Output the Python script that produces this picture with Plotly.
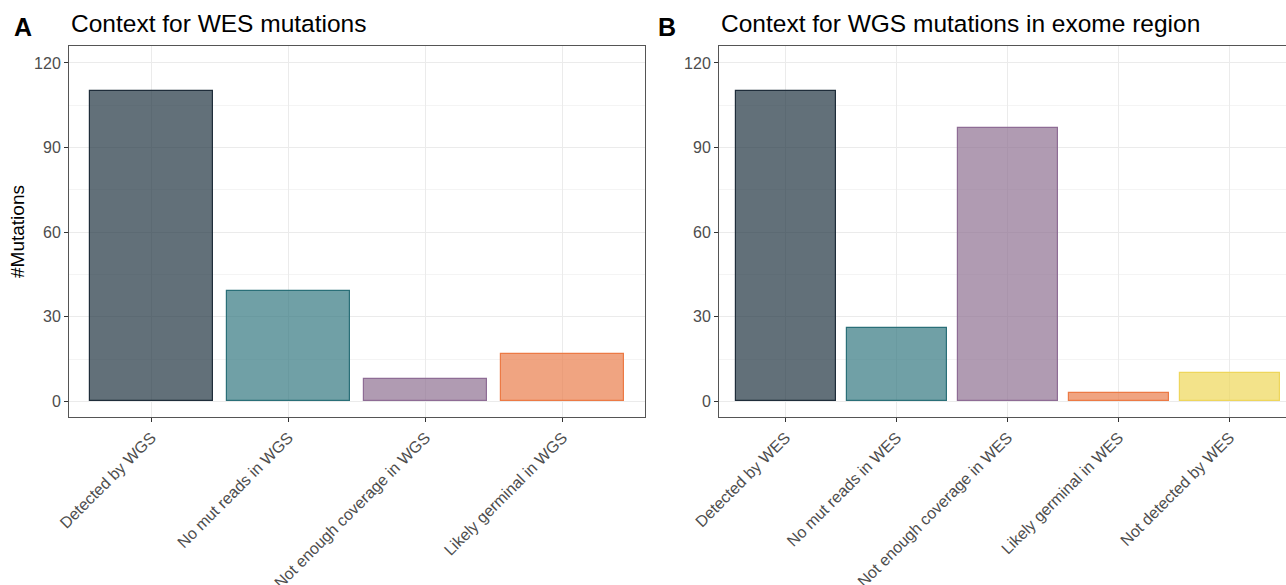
import plotly.graph_objects as go

cats_a = ["Detected by WGS", "No mut reads in WGS", "Not enough coverage in WGS", "Likely germinal in WGS"]
vals_a = [110, 39, 8, 17]
cats_b = ["Detected by WES", "No mut reads in WES", "Not enough coverage in WES", "Likely germinal in WES", "Not detected by WES"]
vals_b = [110, 26, 97, 3, 10]

base_cols = [(32, 51, 64), (51, 119, 128), (142, 112, 145), (233, 126, 76), (238, 215, 88)]
line_cols = ["#1f2d3a", "#2a6f78", "#8e6c95", "#ec7a45", "#eed65c"]
fill = [f"rgba({r},{g},{b},0.7)" for r, g, b in base_cols]

W, H = 1286, 585
FONT = "Liberation Sans"

fig = go.Figure()
fig.add_trace(go.Bar(x=list(range(len(cats_a))), y=vals_a, width=0.9,
                     marker=dict(color=fill[:4], line=dict(color=line_cols[:4], width=1.2)),
                     xaxis="x", yaxis="y", showlegend=False))
fig.add_trace(go.Bar(x=list(range(len(cats_b))), y=vals_b, width=0.9,
                     marker=dict(color=fill[:5], line=dict(color=line_cols[:5], width=1.2)),
                     xaxis="x2", yaxis="y2", showlegend=False))

ydom = [1 - 417 / H, 1 - 46 / H]
tickfont = dict(family=FONT, size=16, color="#4d4d4d")
common_x = dict(showgrid=True, gridcolor="#ebebeb", gridwidth=1, ticks="outside", ticklen=4,
                tickcolor="#333333", tickangle=-45, tickfont=tickfont, zeroline=False,
                showline=True, linecolor="#555555", linewidth=1, mirror=True, automargin=False)
common_y = dict(range=[-5.5, 126], tickvals=[0, 30, 60, 90, 120], showgrid=True, gridcolor="#ebebeb",
                gridwidth=1, ticks="outside", ticklen=4, tickcolor="#333333", tickfont=tickfont,
                zeroline=False, showline=True, linecolor="#555555", linewidth=1, automargin=False,
                minor=dict(tickvals=[15, 45, 75, 105], showgrid=True, gridcolor="#f4f4f4", gridwidth=0.6, ticks=""))

xA = [69 / W, 645 / W]
unitB = 111.0
rightB = -0.6 + (W - 719) / unitB

fig.update_layout(
    width=W, height=H, margin=dict(l=0, r=0, t=0, b=0, autoexpand=False),
    paper_bgcolor="white", plot_bgcolor="white", bargap=0,
    xaxis=dict(domain=xA, anchor="y", range=[-0.6, 3.6], tickvals=list(range(4)), ticktext=cats_a, **common_x),
    yaxis=dict(domain=ydom, anchor="x",
               title=dict(text="#Mutations", standoff=4, font=dict(family=FONT, size=19, color="black")),
               mirror=True, **common_y),
    xaxis2=dict(domain=[719 / W, 1.0], anchor="y2", range=[-0.6, rightB], tickvals=list(range(5)),
                ticktext=cats_b, **common_x),
    yaxis2=dict(domain=ydom, anchor="x2", mirror=False, **common_y),
    annotations=[
        dict(text="<b>A</b>", x=12 / W, y=1 - 27 / H, xref="paper", yref="paper", xanchor="left", yanchor="middle",
             showarrow=False, font=dict(family=FONT, size=25, color="black")),
        dict(text="Context for WES mutations", x=69 / W, y=1 - 24 / H, xref="paper", yref="paper",
             xanchor="left", yanchor="middle", showarrow=False, font=dict(family=FONT, size=24.5, color="black")),
        dict(text="<b>B</b>", x=656 / W, y=1 - 27 / H, xref="paper", yref="paper", xanchor="left", yanchor="middle",
             showarrow=False, font=dict(family=FONT, size=25, color="black")),
        dict(text="Context for WGS mutations in exome region", x=719 / W, y=1 - 24 / H, xref="paper", yref="paper",
             xanchor="left", yanchor="middle", showarrow=False, font=dict(family=FONT, size=24.5, color="black")),
    ],
)

fig.write_html("out.html", config={"displayModeBar": False},
               post_script="document.body.style.margin='0px';document.body.style.overflow='hidden';")
